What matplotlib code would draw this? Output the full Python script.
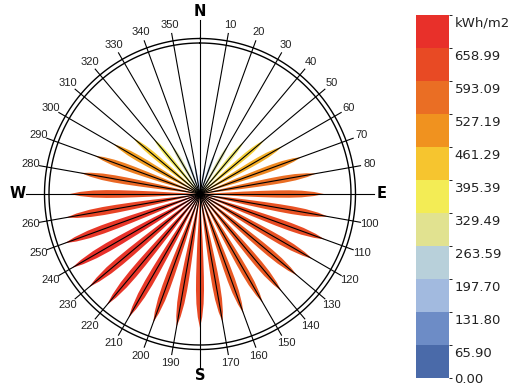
import numpy as np
import matplotlib
matplotlib.use("Agg")
import matplotlib.pyplot as plt
from matplotlib.colors import LinearSegmentedColormap, ListedColormap, BoundaryNorm
from matplotlib.cm import ScalarMappable

# radiation per direction (deg clockwise from north), kWh/m2
directions = list(range(0, 360, 10))
radiation = [98, 147, 206, 274, 333, 411, 465, 529, 578, 607,
             637, 651, 637, 622, 622, 617, 622, 637, 656, 661,
             671, 700, 710, 710, 724.89, 705, 666, 637, 593, 549,
             490, 426, 353, 274, 206, 147]

legend_levels = [0.00, 65.90, 131.80, 197.70, 263.59, 329.49, 395.39,
                 461.29, 527.19, 593.09, 658.99, 724.89]
legend_labels = ["0.00", "65.90", "131.80", "197.70", "263.59", "329.49",
                 "395.39", "461.29", "527.19", "593.09", "658.99", "kWh/m2"]
legend_colors = ["#4a6aa9", "#6d8cc6", "#a2badf", "#b8d0da", "#e1e290",
                 "#f3ec55", "#f6c52f", "#f0921f", "#ea6e24", "#e84a24", "#e8302a"]

cardinals = {0: "N", 90: "E", 180: "S", 270: "W"}

vmax = legend_levels[-1]
petal_max = 148      # radius of the longest petal
ring_in, ring_out = 151, 155.5
tick_end, label_r = 163, 172
card_end, card_r = 174, 182

fig = plt.figure(figsize=(5.15, 3.88), dpi=100)
ax = fig.add_axes([15 / 515, 9 / 388, 370 / 515, 370 / 388], projection="polar")
ax.set_theta_zero_location("N")
ax.set_theta_direction(-1)
ax.set_ylim(0, 185)
ax.set_axis_off()

cmap = LinearSegmentedColormap.from_list("rose", legend_colors)

# spindle shaped petals
t = np.array([0, .2, .35, .5, .62, .72, .82, .92, 1.0])
g = np.array([0, .35, .65, .85, .97, 1.0, .9, .55, 0])
for d, v in zip(directions, radiation):
    L = v / vmax * petal_max
    th = np.radians(d)
    r = t * L
    hw = 0.03 * L * g
    dth = np.arctan2(hw, np.maximum(r, 1e-6))
    thetas = np.concatenate([th + dth, (th - dth)[::-1]])
    rs = np.concatenate([r, r[::-1]])
    ax.fill(thetas, rs, color=cmap(v / vmax), lw=0, zorder=2)

# direction lines + labels
for d in directions:
    th = np.radians(d)
    if d in cardinals:
        ax.plot([th, th], [0, card_end], color="black", lw=0.8, zorder=3)
        ax.text(th, card_r, cardinals[d], ha="center", va="center",
                fontsize=10.5, fontweight="bold", family="DejaVu Sans")
    else:
        ax.plot([th, th], [0, tick_end], color="black", lw=0.8, zorder=3)
        ax.text(th, label_r, str(d), ha="center", va="center",
                fontsize=8, color="#222222", family="Liberation Sans")

circ = np.linspace(0, 2 * np.pi, 400)
for rr in (ring_in, ring_out):
    ax.plot(circ, np.full_like(circ, rr), color="black", lw=1.0, zorder=3)

# stepped legend
lax = fig.add_axes([416 / 515, 10 / 388, 33 / 515, 363 / 388])
norm = BoundaryNorm(legend_levels, len(legend_colors))
cb = fig.colorbar(ScalarMappable(norm=norm, cmap=ListedColormap(legend_colors)),
                  cax=lax, spacing="proportional")
cb.outline.set_visible(False)
lax.set_yticks([])
lax.tick_params(length=0)
for lev, lab in zip(legend_levels, legend_labels):
    if lev == 0:
        # bottom label sits just under the bar
        lax.annotate(lab, xy=(1, lev), xycoords=("axes fraction", "data"),
                     xytext=(4, -5.6), textcoords="offset points",
                     ha="left", va="bottom", fontsize=9.5, color="#222222",
                     family="DejaVu Sans", annotation_clip=False)
    else:
        lax.annotate(lab, xy=(1, lev), xycoords=("axes fraction", "data"),
                     xytext=(4, -1.2), textcoords="offset points",
                     ha="left", va="top", fontsize=9.5, color="#222222",
                     family="DejaVu Sans", annotation_clip=False)

fig.savefig("out.png", dpi=100)
